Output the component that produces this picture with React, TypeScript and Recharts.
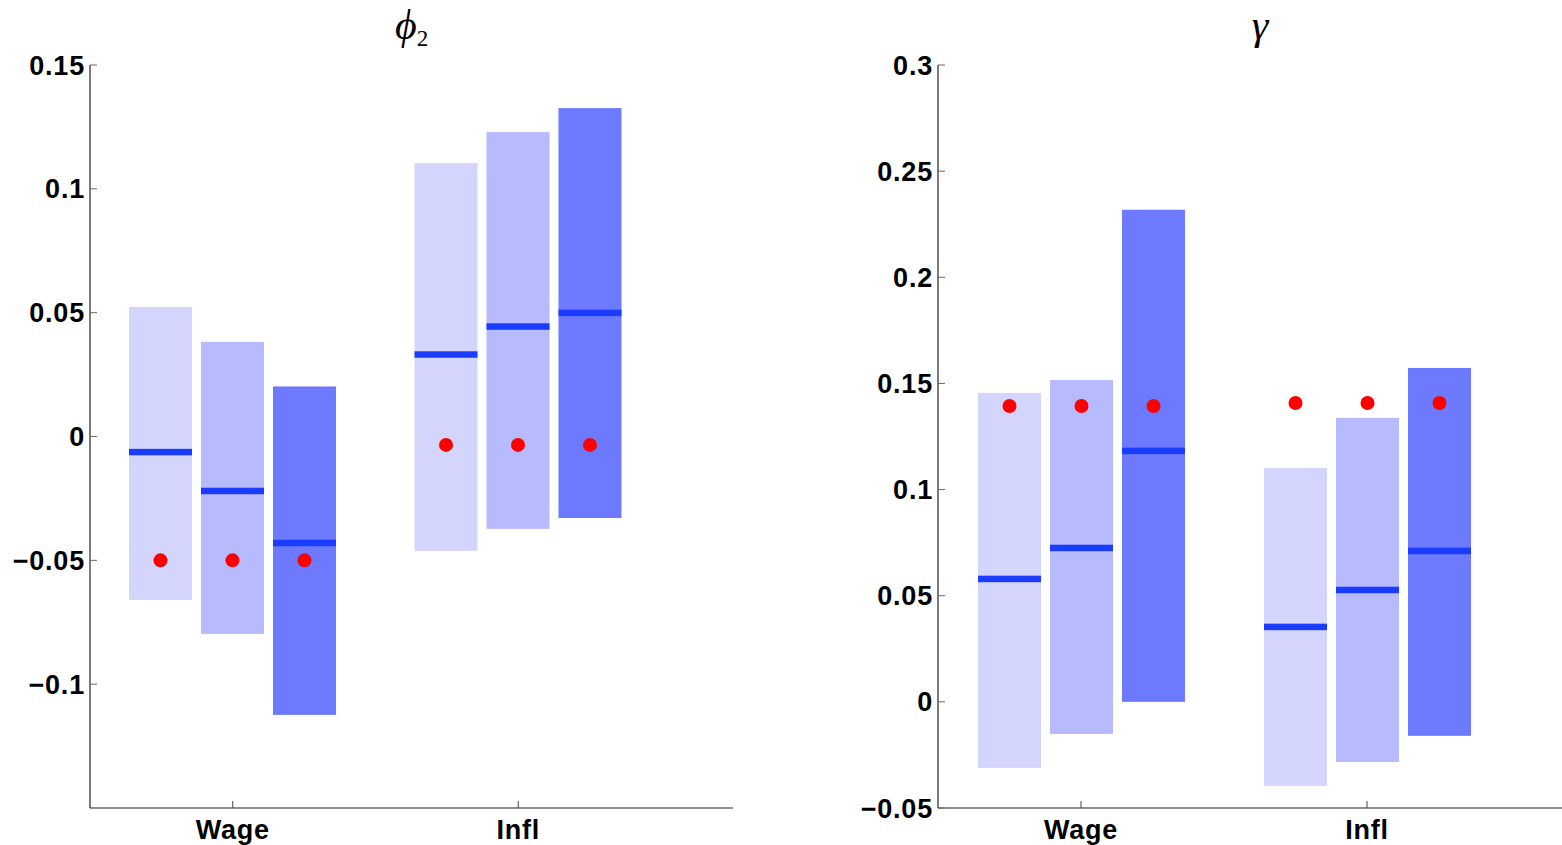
import React from 'react';
import { ComposedChart, Bar, XAxis, YAxis } from 'recharts';

const groups = ['Wage', 'Infl'];
const shades = ['#d3d5fd', '#b7bafd', '#6d7aff'];

// phi_2 intervals: one row per group, one column per shade
const phiLower = [[-0.066, -0.0797, -0.1124], [-0.0462, -0.0373, -0.0329]];
const phiUpper = [[0.0523, 0.0382, 0.0202], [0.1104, 0.1229, 0.1326]];
const phiMedian = [[-0.0063, -0.022, -0.043], [0.0331, 0.0444, 0.0499]];
const phiTrue = [-0.05, -0.0034];
const phiTicks = [-0.1, -0.05, 0, 0.05, 0.1, 0.15];

// gamma intervals
const gammaLower = [[-0.0311, -0.0151, 0], [-0.0396, -0.0283, -0.016]];
const gammaUpper = [[0.1455, 0.1516, 0.2318], [0.1102, 0.1338, 0.1573]];
const gammaMedian = [[0.0579, 0.0725, 0.1182], [0.0353, 0.0527, 0.0711]];
const gammaTrue = [0.1394, 0.1408];
const gammaTicks = [-0.05, 0, 0.05, 0.1, 0.15, 0.2, 0.25, 0.3];

const font = '"Liberation Sans", Arial, Helvetica, sans-serif';
const tickStyle = { fill: '#000', fontSize: 27, fontWeight: 700, fontFamily: font, letterSpacing: 0.8 };
const fmt = (v: number) => String(v).replace('-', '\u2212');

function buildRows(lower: number[][], upper: number[][], median: number[][], truth: number[]) {
  return groups.map((name, g) => {
    const row: any = { name, truth: truth[g] };
    shades.forEach((_, k) => {
      row[`r${k}`] = [lower[g][k], upper[g][k]];
      row[`m${k}`] = median[g][k];
    });
    return row;
  });
}

// interval box + median bar + true value dot, all placed on the bar's own y mapping
function IntervalShape(props: any) {
  const { x, y, width, height, fill, payload, k } = props;
  const [lo, hi] = payload[`r${k}`];
  const toY = (v: number) => y + (height * (hi - v)) / (hi - lo);
  const my = toY(payload[`m${k}`]);
  const ty = toY(payload.truth);
  return (
    <g>
      <rect x={x} y={y} width={width} height={height} fill={fill} />
      <rect x={x} y={my - 3.25} width={width} height={6.5} fill="#1a3cff" />
      <circle cx={x + width / 2} cy={ty} r={7} fill="#ff0000" />
    </g>
  );
}

type PanelProps = {
  title: React.ReactNode;
  rows: any[];
  domain: [number, number];
  ticks: number[];
  left: number;
  width: number;
};

function Panel({ title, rows, domain, ticks, left, width }: PanelProps) {
  const plotCenter = 90 + (width - 90) / 2;
  return (
    <div style={{ position: 'absolute', left, top: 0 }}>
      <div
        style={{
          position: 'absolute',
          left: plotCenter - 100,
          width: 200,
          top: 2,
          textAlign: 'center',
          fontFamily: '"Liberation Serif", "DejaVu Serif", serif',
          fontStyle: 'italic',
          fontSize: 42,
          lineHeight: '46px',
          color: '#000',
        }}
      >
        {title}
      </div>
      <ComposedChart
        width={width}
        height={845}
        data={rows}
        margin={{ top: 65, right: 0, bottom: 0, left: 0 }}
        barGap={9}
        barSize={63}
      >
        <XAxis
          dataKey="name"
          height={37}
          padding={{ left: 0, right: 72 }}
          axisLine={{ stroke: '#222', strokeWidth: 1.2 }}
          tickLine={{ stroke: '#444' }}
          tickSize={-7}
          tickMargin={19}
          tick={tickStyle}
        />
        <YAxis
          type="number"
          domain={domain}
          ticks={ticks}
          interval={0}
          width={90}
          allowDataOverflow
          axisLine={{ stroke: '#222', strokeWidth: 1.2 }}
          tickLine={{ stroke: '#666' }}
          tickSize={-7}
          tickMargin={12}
          tickFormatter={fmt}
          tick={tickStyle}
        />
        {shades.map((c, k) => (
          <Bar
            key={k}
            dataKey={`r${k}`}
            fill={c}
            isAnimationActive={false}
            shape={(p: any) => <IntervalShape {...p} k={k} />}
          />
        ))}
      </ComposedChart>
    </div>
  );
}

export default function App() {
  const phiRows = buildRows(phiLower, phiUpper, phiMedian, phiTrue);
  const gammaRows = buildRows(gammaLower, gammaUpper, gammaMedian, gammaTrue);
  return (
    <div
      style={{
        position: 'absolute',
        left: 0,
        top: 0,
        width: 1562,
        height: 845,
        overflow: 'hidden',
        background: '#fff',
      }}
    >
      <Panel
        title={
          <span>
            {'\u03d5'}
            <span style={{ fontStyle: 'normal', fontSize: 23, verticalAlign: '-7px' }}>2</span>
          </span>
        }
        rows={phiRows}
        domain={[-0.15, 0.15]}
        ticks={phiTicks}
        left={0}
        width={733}
      />
      <Panel
        title={'\u03b3'}
        rows={gammaRows}
        domain={[-0.05, 0.3]}
        ticks={gammaTicks}
        left={848}
        width={734}
      />
    </div>
  );
}
